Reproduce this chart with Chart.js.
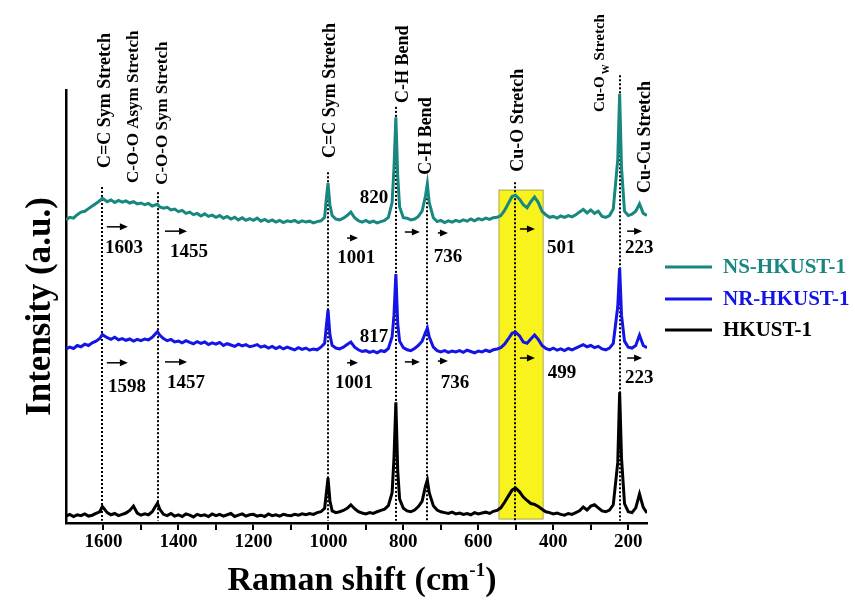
<!DOCTYPE html>
<html>
<head>
<meta charset="utf-8">
<script src="https://cdn.jsdelivr.net/npm/chart.js@4.4.0/dist/chart.umd.min.js"></script>
<style>
  html, body { margin: 0; padding: 0; background: #fff; }
  #wrap { width: 855px; height: 603px; }
</style>
</head>
<body>
<div id="wrap"><canvas id="raman" width="855" height="603"></canvas></div>
<script>
// Raman shift grid (cm-1), shared by all three spectra
const shifts = [
  1700, 1690, 1680, 1670, 1660, 1650, 1640, 1630, 1620, 1610,
  1603, 1590, 1580, 1570, 1560, 1550, 1540, 1530, 1520, 1510,
  1500, 1490, 1480, 1470, 1456, 1450, 1440, 1430, 1420, 1410,
  1400, 1390, 1380, 1370, 1360, 1350, 1340, 1330, 1320, 1310,
  1300, 1290, 1280, 1270, 1260, 1250, 1240, 1230, 1220, 1210,
  1200, 1190, 1180, 1170, 1160, 1150, 1140, 1130, 1120, 1110,
  1100, 1090, 1080, 1070, 1060, 1050, 1040, 1030, 1020, 1010,
  1006, 1001, 996, 990, 980, 970, 960, 950, 940, 930,
  920, 910, 900, 890, 880, 870, 860, 850, 840, 830,
  825, 820, 815, 810, 800, 790, 780, 770, 760, 750,
  741, 736, 731, 720, 710, 700, 690, 680, 670, 660,
  650, 640, 630, 620, 610, 600, 590, 580, 570, 560,
  550, 540, 530, 520, 510, 501, 490, 480, 470, 460,
  450, 440, 430, 420, 410, 400, 390, 380, 370, 360,
  350, 340, 330, 320, 310, 300, 290, 280, 270, 260,
  250, 240, 228, 223, 218, 210, 200, 190, 180, 170,
  160, 150
];

// intensities (a.u., stacked with offsets as plotted)
const hkust = [
  1.6, 2.0, 1.5, 1.9, 1.7, 2.1, 1.6, 1.8, 2.2, 2.6,
  3.8, 2.4, 1.9, 2.2, 1.7, 2.0, 2.3, 2.9, 3.9, 2.3,
  1.8, 2.1, 1.9, 2.6, 4.6, 3.2, 2.0, 1.7, 2.2, 1.6,
  1.9, 1.5, 2.1, 1.8, 1.4, 2.0, 1.7, 1.9, 1.5, 2.1,
  1.7, 2.0, 1.6, 1.9, 2.2, 1.5, 1.8, 2.1, 1.6, 1.9,
  2.0, 1.6, 1.8, 1.5, 2.1, 1.7, 1.9, 1.6, 2.0, 1.8,
  1.7, 2.0, 1.8, 2.1, 1.9, 2.2, 2.0, 2.4, 2.6, 3.4,
  6.5, 10.4, 5.2, 2.8, 2.4, 2.6, 2.9, 3.4, 4.2, 3.3,
  2.6, 2.3, 2.1, 2.4, 2.2, 2.6, 2.9, 3.2, 4.0, 7.0,
  15.0, 27.9, 12.0, 5.5, 3.4, 2.8, 2.6, 3.0, 3.8, 5.0,
  8.5, 9.9, 7.0, 4.0, 3.0, 2.6, 2.4, 2.2, 2.5, 2.1,
  2.3, 2.0, 2.2, 1.9, 2.4, 2.1, 2.3, 2.5, 2.2, 2.7,
  2.9, 3.5, 4.8, 6.2, 7.6, 8.1, 7.2, 6.0, 5.2, 4.5,
  4.3, 3.8, 3.2, 2.6, 2.4, 2.1, 2.3, 2.0, 1.8, 2.2,
  2.0, 2.4, 2.8, 3.7, 3.0, 3.9, 4.2, 3.5, 2.8, 2.6,
  3.0, 4.2, 14.0, 30.2, 15.0, 4.5, 2.6, 2.4, 3.5, 6.7,
  3.6, 2.3
];

const nrHkust = [
  40.2, 40.6, 40.3, 41.0, 40.7, 41.3, 41.0, 41.6, 42.0, 42.6,
  43.5, 42.8, 42.4, 42.9, 42.3, 42.6, 42.2, 42.5, 42.0, 42.4,
  42.1, 42.5, 42.3, 42.9, 44.2, 43.4, 42.6, 42.1, 42.4, 41.8,
  42.0, 41.6, 42.1, 41.7, 41.4, 41.9, 41.5, 41.8, 41.2, 41.6,
  41.3, 41.7, 41.0, 41.4, 41.1, 40.8, 41.3, 40.9, 41.2, 40.7,
  40.9, 41.2, 40.6, 40.9, 40.4, 40.8, 40.3, 40.7, 40.2, 40.6,
  40.3, 40.0, 40.5, 40.1, 40.4, 39.9, 40.2, 40.0, 40.6, 41.5,
  45.0, 49.2, 43.5, 41.0, 40.4, 40.2, 40.6, 41.2, 41.8, 40.6,
  40.0, 39.6, 39.8, 39.4, 39.7, 39.3, 39.8, 39.6, 40.3, 43.0,
  48.0, 57.5, 46.0, 42.0, 40.5, 40.0, 39.8, 40.3, 41.0, 42.0,
  44.0, 45.0, 43.0, 40.6, 39.8, 39.5, 39.8, 39.4, 39.7, 39.5,
  39.8, 39.4, 39.9, 39.6, 39.3, 39.7, 39.5, 39.9, 39.6, 40.0,
  40.2, 40.5, 41.3, 42.5, 43.8, 44.1, 43.2, 41.8, 41.5, 42.5,
  43.4, 42.4, 41.0, 40.3, 40.0, 40.4, 39.9, 40.2, 39.8, 40.3,
  40.0, 40.4, 40.8, 41.2, 40.7, 41.0, 40.5, 40.8, 40.2, 40.0,
  40.4, 41.5, 50.0, 58.9, 48.0, 42.0, 40.6, 40.4, 41.0, 43.4,
  41.0, 40.5
];

const nsHkust = [
  70.0, 70.6, 70.4, 71.2, 71.8, 72.0, 72.6, 73.2, 73.8, 74.4,
  75.0, 74.2, 74.6, 74.0, 74.5, 74.1, 74.4, 73.9, 74.2, 73.7,
  73.9, 73.5, 73.8, 73.2, 73.6, 73.0, 72.7, 72.9, 72.3, 72.5,
  71.9, 72.2, 71.5, 71.8, 71.2, 71.5, 70.9, 71.4, 70.8, 71.1,
  70.6, 71.0, 70.4, 70.8, 70.2, 70.6, 70.0, 70.5, 69.9, 70.3,
  69.9, 70.4, 69.7, 70.1, 69.6, 70.0, 69.5, 69.9, 69.4, 69.8,
  69.6, 69.9, 69.4, 69.8, 69.5, 69.7, 69.3, 69.6, 69.8, 70.6,
  74.5, 78.5, 73.5, 71.0, 70.2, 70.0, 70.4, 71.0, 71.8, 70.5,
  69.8, 69.5, 69.9, 69.4, 69.7, 69.3, 69.6, 69.9, 70.6, 74.0,
  82.0, 93.7, 80.0, 73.0, 70.5, 70.4, 70.0, 70.2, 70.8, 72.0,
  75.5, 78.3, 74.0, 70.5, 69.6, 69.9, 69.4, 69.8, 69.5, 69.9,
  69.6, 70.0, 69.7, 70.2, 69.8, 70.3, 70.0, 70.4, 70.1, 70.5,
  70.6, 71.0, 72.2, 73.8, 75.4, 75.7, 74.8, 73.5, 72.8, 74.2,
  75.3, 74.0, 72.0, 71.2, 70.6, 70.8, 70.4, 70.9, 70.6, 71.0,
  70.7, 71.2, 71.8, 72.4, 71.6, 72.3, 71.5, 72.0, 70.8, 70.6,
  71.0, 72.5, 84.0, 99.1, 82.0, 72.0, 71.0, 71.3, 72.0, 73.7,
  71.5, 71.0
];

const seriesNames = ['NS-HKUST-1', 'NR-HKUST-1', 'HKUST-1'];
const seriesColors = ['#17877f', '#1414e6', '#000000'];

// x axis ticks (cm-1)
const tickValues = [1600, 1500, 1400, 1300, 1200, 1100, 1000, 900, 800, 700, 600, 500, 400, 300, 200];
const labelledTicks = [1600, 1400, 1200, 1000, 800, 600, 400, 200];

// band assignments and peak positions
const peakShifts = [1603, 1455, 1001, 820, 736, 501, 223];
const highlightBand = [545, 427];
const nsPeakLabels = ['1603', '1455', '1001', '820', '736', '501', '223'];
const nrPeakLabels = ['1598', '1457', '1001', '817', '736', '499', '223'];

const FONT = "'Liberation Serif', 'Times New Roman', serif";

// layout of the annotations, in axis units
const guideTops = [77.6, 76.4, 81.0, 96.1, 78.7, 78.7, 103.4];
const bandLabels = [
  { text: 'C=C Sym Stretch', x: 1596, y: 82.0, size: 18 },
  { text: 'C-O-O Asym Stretch', x: 1519, y: 78.5, size: 17 },
  { text: 'C-O-O Sym Stretch', x: 1441, y: 78.1, size: 17 },
  { text: 'C=C Sym Stretch', x: 996, y: 84.3, size: 18 },
  { text: 'C-H Bend', x: 801, y: 97.0, size: 18 },
  { text: 'C-H Bend', x: 740, y: 80.4, size: 18 },
  { text: 'Cu-O Stretch', x: 494, y: 81.1, size: 18 },
  { text: 'Cu-O', sub: 'W', rest: ' Stretch', x: 275, y: 94.9, size: 15 },
  { text: 'Cu-Cu Stretch', x: 155, y: 76.2, size: 18 }
];
const nsLabelPos = [[1545, 63.5], [1372, 62.6], [926, 61.2], [878, 75.1], [681, 61.4], [379, 63.5], [171, 63.5]];
const nrLabelPos = [[1537, 31.4], [1380, 32.3], [932, 32.3], [878, 43.0], [662, 32.3], [377, 34.6], [171, 33.5]];
const arrowSpans = [[1591, 1535], [1436, 1377], [950, 921], [796, 756], [708, 681], [489, 449], [203, 163]];
const nsArrowY = [68.4, 67.4, 65.8, 67.2, 67.0, 67.9, 67.4];
const nrArrowY = [37.0, 37.2, 37.0, 37.2, 37.4, 38.1, 38.1];

function toPoints(values) {
  return shifts.map((s, i) => ({ x: s, y: values[i] }));
}

function drawArrow(ctx, x1, x2, yy) {
  ctx.beginPath();
  ctx.moveTo(x1, yy);
  ctx.lineTo(x2 - 5, yy);
  ctx.stroke();
  ctx.beginPath();
  ctx.moveTo(x2, yy);
  ctx.lineTo(x2 - 8, yy - 3.5);
  ctx.lineTo(x2 - 8, yy + 3.5);
  ctx.closePath();
  ctx.fill();
}

const annotations = {
  id: 'ramanAnnotations',
  beforeDatasetsDraw(chart) {
    const { ctx, scales: { x, y } } = chart;
    ctx.save();
    // highlighted Cu-O region
    const bx1 = x.getPixelForValue(highlightBand[0]);
    const bx2 = x.getPixelForValue(highlightBand[1]);
    const by1 = y.getPixelForValue(76.9);
    const by2 = y.getPixelForValue(0.9);
    ctx.fillStyle = '#f8f31c';
    ctx.fillRect(bx1, by1, bx2 - bx1, by2 - by1);
    ctx.strokeStyle = 'rgba(110,110,70,0.6)';
    ctx.lineWidth = 1;
    ctx.strokeRect(bx1, by1, bx2 - bx1, by2 - by1);

    // dotted guide lines through the peaks
    ctx.setLineDash([2, 2]);
    ctx.strokeStyle = '#000';
    ctx.lineWidth = 2;
    peakShifts.forEach((p, i) => {
      const px = Math.round(x.getPixelForValue(p));
      ctx.beginPath();
      ctx.moveTo(px, y.getPixelForValue(guideTops[i]));
      ctx.lineTo(px, y.getPixelForValue(0.5));
      ctx.stroke();
    });
    ctx.restore();
  },
  afterDraw(chart) {
    const { ctx, scales: { x, y } } = chart;
    ctx.save();
    ctx.fillStyle = '#000';
    ctx.strokeStyle = '#000';

    // vertical band names
    ctx.textAlign = 'left';
    ctx.textBaseline = 'middle';
    bandLabels.forEach(b => {
      ctx.save();
      ctx.translate(x.getPixelForValue(b.x), y.getPixelForValue(b.y));
      ctx.rotate(-Math.PI / 2);
      ctx.font = `bold ${b.size}px ${FONT}`;
      ctx.fillText(b.text, 0, 0);
      if (b.sub) {
        let w = ctx.measureText(b.text).width + 2;
        ctx.font = `bold ${Math.round(b.size * 0.65)}px ${FONT}`;
        ctx.fillText(b.sub, w, 6);
        w += ctx.measureText(b.sub).width;
        ctx.font = `bold ${b.size}px ${FONT}`;
        ctx.fillText(b.rest, w, 0);
      }
      ctx.restore();
    });

    // peak positions
    ctx.font = `bold 19px ${FONT}`;
    ctx.textAlign = 'center';
    nsPeakLabels.forEach((t, i) => {
      ctx.fillText(t, x.getPixelForValue(nsLabelPos[i][0]), y.getPixelForValue(nsLabelPos[i][1]));
    });
    nrPeakLabels.forEach((t, i) => {
      ctx.fillText(t, x.getPixelForValue(nrLabelPos[i][0]), y.getPixelForValue(nrLabelPos[i][1]));
    });

    // shift arrows
    ctx.lineWidth = 1.5;
    arrowSpans.forEach((s, i) => {
      const x1 = x.getPixelForValue(s[0]);
      const x2 = x.getPixelForValue(s[1]);
      drawArrow(ctx, x1, x2, y.getPixelForValue(nsArrowY[i]));
      drawArrow(ctx, x1, x2, y.getPixelForValue(nrArrowY[i]));
    });

    // legend
    const rows = [267, 299, 330];
    ctx.textAlign = 'left';
    ctx.font = `bold 21px ${FONT}`;
    chart.data.datasets.forEach((ds, i) => {
      ctx.strokeStyle = ds.borderColor;
      ctx.lineWidth = 3;
      ctx.beginPath();
      ctx.moveTo(665, rows[i]);
      ctx.lineTo(712, rows[i]);
      ctx.stroke();
      ctx.fillStyle = ds.borderColor;
      ctx.fillText(ds.label, 723, rows[i] + 1);
    });

    // x axis title with superscript
    ctx.fillStyle = '#000';
    ctx.textBaseline = 'alphabetic';
    const a = 'Raman shift (cm', b = '-1', c = ')';
    ctx.font = `bold 34px ${FONT}`;
    const wa = ctx.measureText(a).width, wc = ctx.measureText(c).width;
    ctx.font = `bold 19px ${FONT}`;
    const wb = ctx.measureText(b).width;
    let tx = 362 - (wa + wb + wc) / 2;
    ctx.font = `bold 34px ${FONT}`;
    ctx.fillText(a, tx, 590);
    tx += wa;
    ctx.font = `bold 19px ${FONT}`;
    ctx.fillText(b, tx, 576);
    tx += wb;
    ctx.font = `bold 34px ${FONT}`;
    ctx.fillText(c, tx, 590);
    ctx.restore();
  }
};

const ctx = document.getElementById('raman').getContext('2d');
new Chart(ctx, {
  type: 'line',
  data: {
    datasets: [
      { label: seriesNames[0], data: toPoints(nsHkust), borderColor: seriesColors[0], borderWidth: 3, pointRadius: 0, fill: false },
      { label: seriesNames[1], data: toPoints(nrHkust), borderColor: seriesColors[1], borderWidth: 3, pointRadius: 0, fill: false },
      { label: seriesNames[2], data: toPoints(hkust), borderColor: seriesColors[2], borderWidth: 3, pointRadius: 0, fill: false }
    ]
  },
  options: {
    responsive: false,
    animation: false,
    devicePixelRatio: 1,
    layout: { padding: { top: 90, right: 208, left: 0, bottom: 0 } },
    plugins: { legend: { display: false }, tooltip: { enabled: false } },
    scales: {
      x: {
        type: 'linear',
        reverse: true,
        min: 150,
        max: 1700,
        afterBuildTicks: s => { s.ticks = tickValues.map(v => ({ value: v })); },
        afterFit: s => { s.height = 80; },
        ticks: {
          autoSkip: false,
          maxRotation: 0,
          padding: 1,
          color: '#000',
          font: { family: FONT, size: 19, weight: 'bold' },
          callback: v => labelledTicks.includes(v) ? String(v) : ''
        },
        grid: { drawOnChartArea: false, drawTicks: true, tickLength: 7, color: '#000', lineWidth: 2 },
        border: { display: true, color: '#000', width: 2.5 }
      },
      y: {
        min: 0,
        max: 100,
        afterFit: s => { s.width = 66; },
        ticks: { display: false },
        grid: { display: false },
        border: { display: true, color: '#000', width: 2.5 },
        title: {
          display: true,
          text: 'Intensity (a.u.)',
          color: '#000',
          font: { family: FONT, size: 35, weight: 'bold' },
          padding: { top: 20, bottom: 0 }
        }
      }
    }
  },
  plugins: [annotations]
});
</script>
</body>
</html>
